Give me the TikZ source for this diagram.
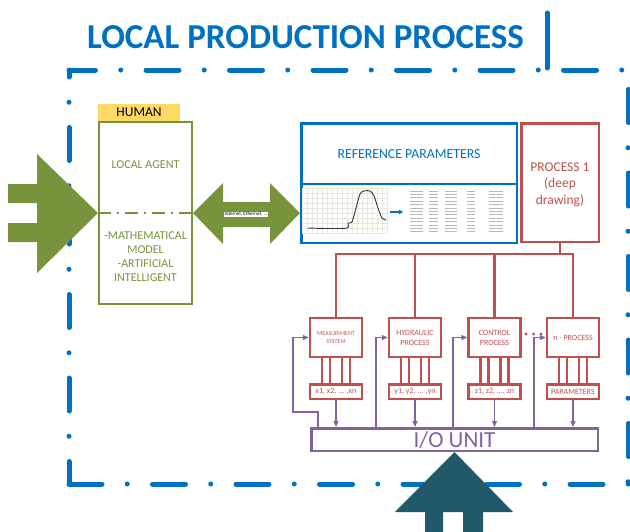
\documentclass[tikz,border=0pt]{standalone}
\usepackage{fontspec}
\setmainfont{Carlito}
\usepackage{xcolor}
\usetikzlibrary{arrows.meta}
\definecolor{lppblue}{HTML}{0070C0}
\definecolor{lppgreen}{HTML}{77933C}
\definecolor{lppred}{HTML}{C0504D}
\definecolor{lpppurple}{HTML}{8064A2}
\definecolor{lppteal}{HTML}{215968}
\definecolor{lppyellow}{HTML}{FFD966}

\begin{document}
\begin{tikzpicture}[x=1pt,y=-1pt,
        frameline/.style={lppblue,line width=5pt,line cap=round,dash pattern=on 33pt off 25.25pt on 0pt off 25.25pt},
        greentext/.style={text=lppgreen,align=center,font=\fontsize{12}{14}\selectfont},
        redbox/.style={draw=lppred,line width=2.5pt,text=lppred,align=center,inner sep=0pt},
        subbox/.style={redbox,minimum width=52pt,minimum height=39pt,font=\fontsize{8}{10}\selectfont},
        parbox/.style={redbox,minimum width=52pt,minimum height=14.5pt,font=\fontsize{8}{8}\selectfont},
        redline/.style={lppred,line width=2.5pt},
        pline/.style={lpppurple,line width=1.2pt,-{Triangle[length=6pt,width=5pt]}}]
        \useasboundingbox (0,0) rectangle (630,531);

        % title and frame
        \node[text=lppblue,font=\fontsize{35}{35}\selectfont\bfseries] (ttl) at (305.5,37.5) {LOCAL PRODUCTION PROCESS};
        \draw[lppblue,line width=5pt,line cap=round] (547,13) -- (547,68);
        \draw[frameline,dash phase=6.5pt] (69,70) -- (650,70);
        \draw[frameline,dash phase=10.5pt] (69,484) -- (69,70);
        \draw[frameline] (69,484) -- (650,484);
        \draw[frameline] (628,89.5) -- (628,484);

        % left: local agent
        \node[fill=lppyellow,minimum width=82pt,minimum height=17pt,inner sep=0pt,font=\fontsize{13.5}{13.5}\selectfont] (human) at (139,112.5) {HUMAN};
        \node[draw=lppgreen,line width=2pt,minimum width=93pt,minimum height=182pt] (agent) at (145.5,213) {};
        \node[greentext] (agenttxt) at (145.5,165) {LOCAL AGENT};
        \node[greentext] (modeltxt) at (145.5,257) {-MATHEMATICAL\\MODEL\\-ARTIFICIAL\\INTELLIGENT};
        \draw[lppgreen,line width=2pt,dash pattern=on 13pt off 6pt on 2pt off 6pt] (agent.west) -- (agent.east);
        \fill[lppgreen] (8,184) -- (37,184) -- (37,154) -- (agent.west) -- (37,273) -- (37,242) -- (8,242)
            -- (8,223) -- (37,223) -- (37,203) -- (8,203) -- cycle;

        % middle: reference parameters
        \node[draw=lppblue,line width=2.5pt,minimum width=215.5pt,minimum height=119.5pt] (refbox) at (409,183) {};
        \coordinate (refmid) at (0,184);
        \draw[lppblue,line width=2.5pt] (refbox.west |- refmid) -- (refbox.east |- refmid);
        \node[text=lppblue,font=\fontsize{13.8}{13.8}\selectfont] (reftxt) at (409,154) {REFERENCE PARAMETERS};
        \fill[lppgreen] (agent.east) -- (223,183) -- (223,202) -- (270,202) -- (270,183) -- (refbox.west |- agent.east)
            -- (270,244) -- (270,227) -- (223,227) -- (223,244) -- cycle;
        \node[fill=white,inner sep=0.8pt,font=\fontsize{5}{5}\selectfont] (net) at (246,214.5) {Internet, Ethernet, ...};

        % chart
        \begin{scope}[shift={(302,188)}]
            \foreach \gx in {0,5,...,85} \draw[lppgreen!20,line width=0.4pt] (\gx,0) -- (\gx,45);
            \foreach \gy in {0,5,...,45} \draw[lppgreen!20,line width=0.4pt] (0,\gy) -- (85,\gy);
            \draw[black!80,line width=0.9pt] plot[smooth] coordinates {(6,40) (25,40.5) (45,40) (46,35) (50,34)
                (54,20) (58,6) (62,3) (68,3) (72,8) (76,20) (80,30) (84,32)};
        \end{scope}
        \draw[lppblue,line width=1.5pt,-{Triangle[length=4pt,width=4.5pt]}] (390,212) -- (403,212);
        % table
        \begin{scope}[shift={(407,188)}]
            \foreach \r in {0,...,12}
                \foreach \c/\w in {3/13,22/9,38/12,60/8,82/14}
                    \draw[gray!55,line width=0.9pt] (\c,\r*3.4+3) -- ++(\w,0);
        \end{scope}

        % right: process 1 and sub processes
        \node[redbox,minimum width=77.5pt,minimum height=118.5pt] (proc) at (560,182.5) {};
        \node[text=lppred,align=center,font=\fontsize{13.5}{16.5}\selectfont] (proctxt) at (560,184.5) {PROCESS 1\\(deep\\drawing)};
        \node[subbox,font=\fontsize{6}{7.5}\selectfont] (meas) at (336,337.5) {MEASURIMENT\\SYSTEM};
        \node[subbox] (hyd) at (415,337.5) {HYDRAULIC\\PROCESS};
        \node[subbox] (ctrl) at (494.5,337.5) {CONTROL\\PROCESS};
        \node[subbox] (npr) at (573,337.5) {n - PROCESS};
        \node[parbox] (xpar) at (336,391.5) {x1, x2, ... ,xn};
        \node[parbox] (ypar) at (415,391.5) {y1, y2, ... ,yn};
        \node[parbox] (zpar) at (494.5,391.5) {z1, z2, ..., zn};
        \node[parbox] (npar) at (573,391.5) {PARAMETERS};
        \foreach \b/\p in {meas/xpar,hyd/ypar,ctrl/zpar,npr/npar}
            \foreach \dx in {-14,-6,6,14}
                \draw[redline] ([xshift=\dx pt]\b.south) -- ([xshift=\dx pt]\p.north);
        \coordinate (bus) at (0,254);
        \draw[redline] (proc.south) -- (proc.south |- bus);
        \draw[redline] (meas.north) |- (npr.north |- bus) -- (npr.north);
        \draw[redline] (hyd.north) -- (hyd.north |- bus);
        \draw[redline] (ctrl.north) -- (ctrl.north |- bus);
        \foreach \dx in {526,533.5,541} \fill[lppred] (\dx,334) circle (1.6);

        % bottom: i/o unit
        \node[draw=lpppurple,line width=2.5pt,minimum width=286.5pt,minimum height=22.5pt,inner sep=0pt,
            text=lpppurple,font=\fontsize{23}{23}\selectfont] (io) at (454.5,439.5) {I/O UNIT};
        \foreach \p in {xpar,ypar,zpar,npar}
            \draw[pline] (\p.south) -- (\p.south |- io.north);
        \coordinate (f1) at (318,0);
        \coordinate (f2) at (376,0);
        \coordinate (f3) at (453,0);
        \coordinate (f4) at (534,0);
        \draw[pline] (io.north -| f1) |- (293,412) |- (meas.west);
        \draw[pline] (io.north -| f2) |- (hyd.west);
        \draw[pline] (io.north -| f3) |- (ctrl.west);
        \draw[pline] (io.north -| f4) |- (npr.west);
        \fill[lppteal] (io.south) -- (513,512) -- (483,512) -- (483,540) -- (463,540) -- (463,512) -- (443,512)
            -- (443,540) -- (425,540) -- (425,512) -- (395,512) -- cycle;
    \end{tikzpicture}
\end{document}
